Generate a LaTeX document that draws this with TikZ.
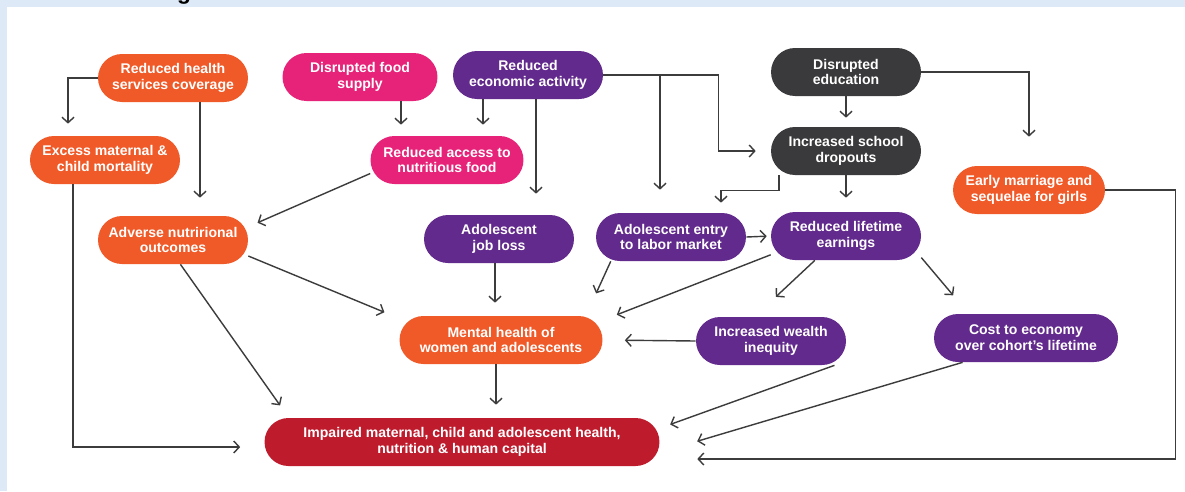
\documentclass[tikz,border=0pt]{standalone}
\usepackage{fontspec}
\setmainfont{Liberation Sans}
\usetikzlibrary{arrows.meta,calc}
\definecolor{HealthOrange}{RGB}{240,90,40}
\definecolor{FoodPink}{RGB}{230,35,120}
\definecolor{EconPurple}{RGB}{98,42,140}
\definecolor{EduGray}{RGB}{58,58,60}
\definecolor{ImpactRed}{RGB}{190,28,45}
\definecolor{LinkGray}{RGB}{60,60,60}
\definecolor{FrameBlue}{RGB}{221,233,246}
\tikzset{
  pill/.style={rectangle,rounded corners=0.48cm,minimum height=0.96cm,minimum width=3cm,
    inner sep=1pt,align=center,text=white,font=\bfseries\fontsize{8}{9}\selectfont},
  link/.style={->,draw=LinkGray,line width=0.8pt},
}
\begin{document}
\begin{tikzpicture}[x=0.02cm,y=-0.02cm,>={Straight Barb[length=1.1mm,width=2.4mm]}]
  \useasboundingbox (0,0) rectangle (1185,491);
  \fill[FrameBlue] (0,0) rectangle (1185,491);
  \fill[white] (7,7) rectangle (1185,491);
  \begin{scope}
    \clip (0,0) rectangle (1185,7);
    \node[anchor=base,font=\bfseries\fontsize{13}{13}\selectfont] (ttl) at (184,-1) {g};
  \end{scope}
  % causes
  \node[pill,fill=HealthOrange] (hlth) at (173,78) {Reduced health\\services coverage};
  \node[pill,fill=FoodPink,minimum width=3.1cm] (food) at (360,77) {Disrupted food\\supply};
  \node[pill,fill=EconPurple] (econ) at (528,75) {Reduced\\economic activity};
  \node[pill,fill=EduGray] (edu) at (846,72) {Disrupted\\education};
  % pathways
  \node[pill,fill=HealthOrange] (exc) at (105,160) {Excess maternal \&\\child mortality};
  \node[pill,fill=FoodPink,minimum width=3.06cm] (acc) at (447,160) {Reduced access to\\nutritious food};
  \node[pill,fill=EduGray] (drop) at (846,151) {Increased school\\dropouts};
  \node[pill,fill=HealthOrange,minimum width=3.04cm] (marr) at (1029,190) {Early marriage and\\sequelae for girls};
  \node[pill,fill=HealthOrange] (adv) at (173,240) {Adverse nutrirional\\outcomes};
  \node[pill,fill=EconPurple] (job) at (499,239) {Adolescent\\job loss};
  \node[pill,fill=EconPurple] (entry) at (671,237) {Adolescent entry\\to labor market};
  \node[pill,fill=EconPurple] (earn) at (846,236) {Reduced lifetime\\earnings};
  \node[pill,fill=HealthOrange,minimum width=4.06cm] (ment) at (501,340) {Mental health of\\women and adolescents};
  \node[pill,fill=EconPurple] (wlth) at (771,341) {Increased wealth\\inequity};
  \node[pill,fill=EconPurple,minimum width=3.68cm] (cost) at (1026,338) {Cost to economy\\over cohort’s lifetime};
  \node[pill,fill=ImpactRed,minimum width=7.9cm] (imp) at (462,442) {Impaired maternal, child and adolescent health,\\nutrition \& human capital};
  % links
  \draw[link,shorten >=2.4mm] (hlth.west) -| ($(exc.north)+(-37,0)$);
  \draw[link,shorten >=3.6mm] ([xshift=0.54cm]hlth.south) -- ([xshift=0.54cm]adv.north);
  \draw[link,shorten >=4.8mm] ([xshift=-0.64cm]exc.south) |- ([yshift=-0.1cm]imp.west);
  \draw[link,shorten >=2.2mm] ([xshift=0.82cm]food.south) coordinate (f1) -- (f1 |- acc.north);
  \draw[link,shorten >=2.2mm] ([xshift=-0.9cm]econ.south) coordinate (e1) -- (e1 |- acc.north);
  \draw[link,shorten >=4.2mm] ([xshift=0.16cm]econ.south) coordinate (e2) -- (e2 |- job.north);
  \draw[link,shorten >=3mm] (econ.east) -| ($(drop.west)+(-52,0)$) -- (drop.west);
  \draw[link,shorten >=4.6mm] ([xshift=-0.22cm]entry.north |- econ.east) coordinate (e3) -- (e3 |- entry.north);
  \draw[link,shorten >=2mm] (acc.190) -- (adv.10);
  \draw[link,shorten >=1.8mm] (edu.south) -- (drop.north);
  \draw[link,shorten >=5.8mm] (edu.east) -| (marr.north);
  \draw[link,shorten >=2mm] ([xshift=-1.34cm]drop.south) |- ($(drop.south)!.4!(entry.north)$) -| ([xshift=1cm]entry.north);
  \draw[link,shorten >=2.8mm] (drop.south) -- (earn.north);
  \draw[link,shorten >=0.8mm] (entry.east) -- (earn.west);
  \draw[link,shorten >=4.9mm] (entry.202) -- (ment.16);
  \draw[link,shorten >=3mm] (earn.194) -- (ment.11);
  \draw[link,shorten >=5.8mm] (earn.218) -- (wlth.124);
  \draw[link,shorten >=4.8mm] (earn.-16) -- (cost.157);
  \draw[link,shorten >=2.6mm] ([xshift=-0.08cm]job.south) coordinate (j1) -- (j1 |- ment.north);
  \draw[link,shorten >=3.2mm] (adv.-12) -- (ment.168);
  \draw[link,shorten >=3mm] (adv.-73) -- (imp.172);
  \draw[link,shorten >=4.4mm] (wlth.west) -- (ment.east);
  \draw[link,shorten >=2.6mm] ([xshift=-0.1cm]ment.south) coordinate (m1) -- (m1 |- imp.north);
  \draw[link,shorten >=2.2mm] (wlth.-21) -- (imp.4);
  \draw[link,shorten >=7.8mm] (cost.201) -- (imp.-3.6);
  \draw[link,shorten >=7.5mm] (marr.east) -- ++(70,0) |- ([yshift=-0.34cm]imp.east);
\end{tikzpicture}
\end{document}
